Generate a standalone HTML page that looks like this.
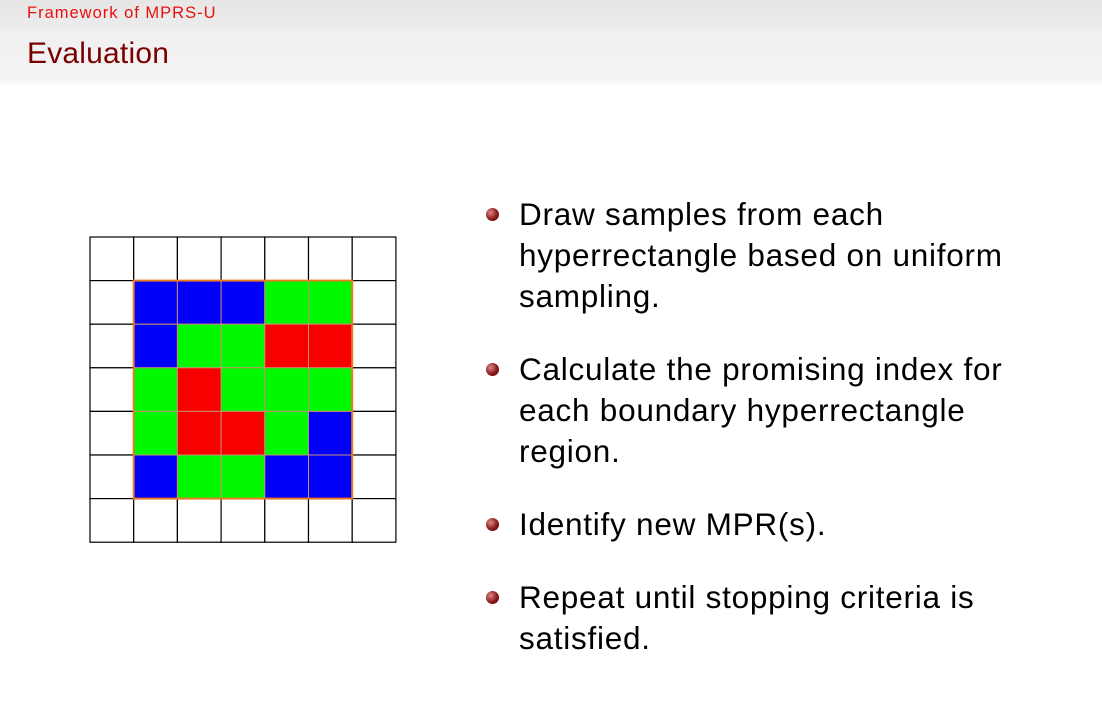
<!DOCTYPE html>
<html><head><meta charset="utf-8"><style>
body{margin:0;width:1102px;height:724px;background:#fff;font-family:"Liberation Sans",sans-serif;overflow:hidden;position:relative}
.hdr{position:absolute;left:0;top:0;width:1102px;height:86px;background:linear-gradient(#e6e6e6 0,#ececec 28px,#f0f0f0 30px,#f3f3f3 78px,#fff 86px)}
.t1{position:absolute;left:27px;top:4px;font-size:16.5px;letter-spacing:1px;color:#e8100f}
.t2{position:absolute;left:27px;top:37px;font-size:30px;letter-spacing:0.2px;color:#7a0000}
ul{position:absolute;left:486px;top:194px;margin:0;padding:0;list-style:none;font-size:31.5px;letter-spacing:0.75px;color:#000;line-height:41px}
li{position:relative;padding-left:33px;margin-bottom:32px;width:505px}
li::before{content:"";position:absolute;left:0;top:14px;width:13px;height:13px;border-radius:50%;background:radial-gradient(circle at 35% 35%,#d88,#8b1a1a 55%,#500 100%)}
</style></head><body>
<div class="hdr"></div>
<div class="t1">Framework of MPRS-U</div>
<div class="t2">Evaluation</div>
<svg id="g" style="position:absolute;left:0;top:0" width="1102" height="724"></svg>
<ul>
<li>Draw samples from each hyperrectangle based on uniform sampling.</li>
<li>Calculate the promising index for each boundary hyperrectangle region.</li>
<li>Identify new MPR(s).</li>
<li>Repeat until stopping criteria is satisfied.</li>
</ul>
<script>
const cells=[["B","B","B","G","G"],["B","G","G","R","R"],["G","R","G","G","G"],["G","R","R","G","B"],["B","G","G","B","B"]];
const col={B:"#0000f8",G:"#00f800",R:"#f80000"};
const g=document.getElementById('g');const ns="http://www.w3.org/2000/svg";
const x0=90,y0=237,cw=43.7,ch=43.6;
function r(x,y,w,h,f,s,sw){const e=document.createElementNS(ns,'rect');e.setAttribute('x',x);e.setAttribute('y',y);e.setAttribute('width',w);e.setAttribute('height',h);e.setAttribute('fill',f);e.setAttribute('stroke',s);e.setAttribute('stroke-width',sw);g.appendChild(e);return e;}
for(let i=0;i<7;i++)for(let j=0;j<7;j++){const e=r(x0+j*cw,y0+i*ch,cw,ch,"#fff","#000",1.2);

}
for(let i=0;i<5;i++)for(let j=0;j<5;j++){const e=r(x0+(j+1)*cw,y0+(i+1)*ch,cw,ch,col[cells[i][j]],"#c89070",1);

}
const o=r(x0+cw,y0+ch,5*cw,5*ch,"none","#e87a20",2);


</script>
</body></html>
